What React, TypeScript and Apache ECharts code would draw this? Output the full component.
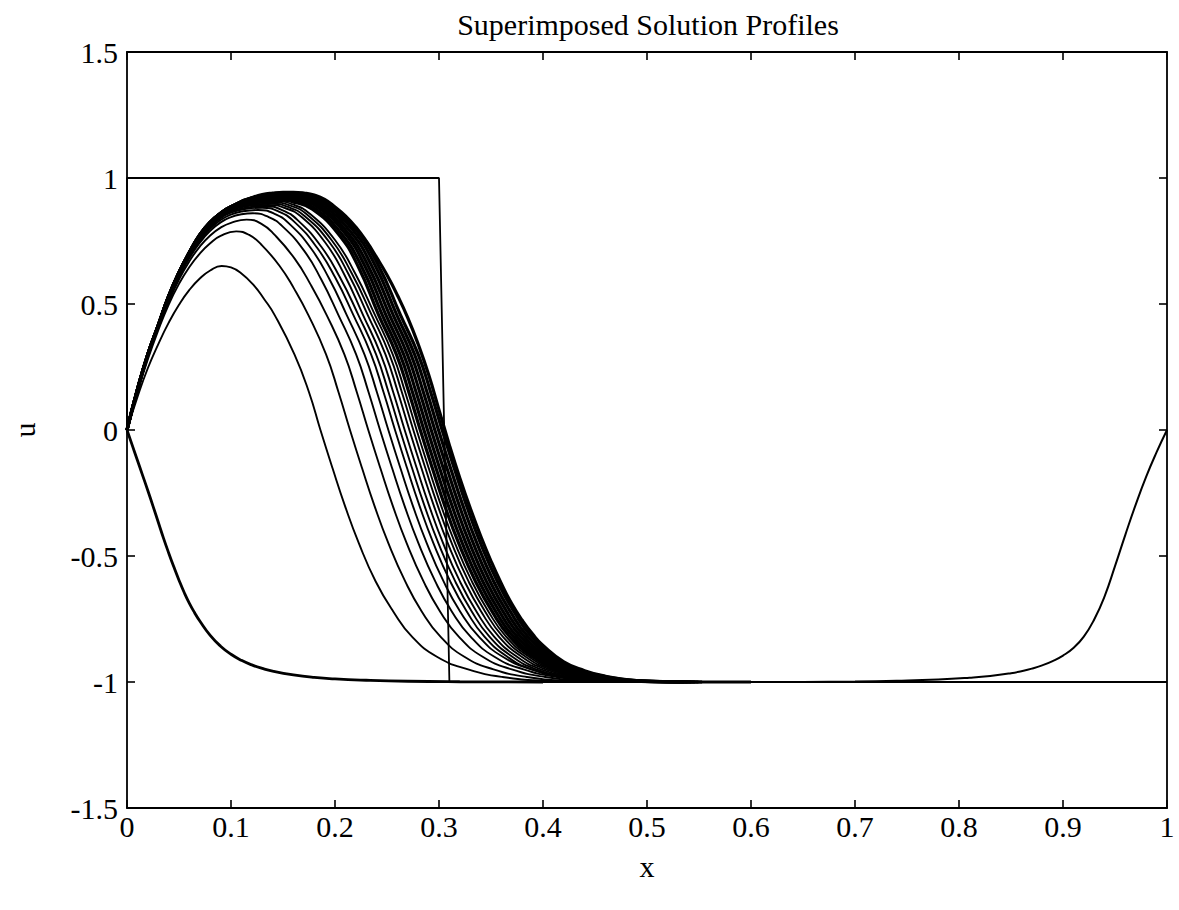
import React, { useEffect, useRef } from "react";
import * as echarts from "echarts";

const TITLE = "Superimposed Solution Profiles";
const X_NAME = "x";
const Y_NAME = "u";
const X_MIN = 0;
const X_MAX = 1;
const X_STEP = 0.1;
const Y_MIN = -1.5;
const Y_MAX = 1.5;
const Y_STEP = 0.5;

// initial step profile
const initialProfile = [[0, 0], [0, 1], [0.3, 1], [0.31, -1], [1, -1]];

// lower profile: left boundary layer
const lowerLeftProfile = [
  [0, 0], [0.005, -0.06], [0.01, -0.12], [0.015, -0.18], [0.02, -0.24], [0.025, -0.302],
  [0.03, -0.365], [0.035, -0.428], [0.04, -0.487], [0.045, -0.543], [0.05, -0.596],
  [0.055, -0.645], [0.06, -0.688], [0.065, -0.725], [0.07, -0.758], [0.08, -0.815],
  [0.09, -0.858], [0.1, -0.89], [0.11, -0.914], [0.12, -0.932], [0.13, -0.946], [0.14, -0.957],
  [0.16, -0.972], [0.18, -0.982], [0.2, -0.988], [0.23, -0.993], [0.27, -0.997], [0.32, -0.999], [0.4, -1],
];
// right boundary layer
const rightBoundaryProfile = [
  [0.65, -1], [0.7, -0.998], [0.74, -0.995], [0.78, -0.99], [0.81, -0.983], [0.83, -0.976],
  [0.85, -0.965], [0.86, -0.957], [0.87, -0.947], [0.88, -0.934], [0.89, -0.917], [0.9, -0.895],
  [0.91, -0.865], [0.92, -0.82], [0.93, -0.752], [0.94, -0.66], [0.95, -0.54], [0.96, -0.415],
  [0.97, -0.295], [0.98, -0.185], [0.99, -0.088], [1, 0],
];

const curve1 = [[0,0],[0.01,0.13],[0.02,0.245],[0.03,0.34],[0.04,0.425],[0.05,0.497],[0.06,0.556],[0.07,0.601],[0.08,0.633],[0.091,0.651],[0.1,0.645],[0.1089,0.625],[0.1216,0.576],[0.1318,0.52],[0.142,0.456],[0.161,0.3],[0.175,0.15],[0.186,0],[0.1975,-0.15],[0.2095,-0.3],[0.223,-0.45],[0.239,-0.6],[0.256,-0.72],[0.274,-0.82],[0.298,-0.9],[0.328,-0.95],[0.361,-0.98],[0.406,-0.995],[0.486,-1]];
const curve2 = [[0,0],[0.01,0.15],[0.02,0.28],[0.03,0.395],[0.04,0.497],[0.05,0.58],[0.06,0.647],[0.07,0.7],[0.08,0.741],[0.09,0.77],[0.105,0.788],[0.1175,0.774],[0.1293,0.735],[0.1466,0.652],[0.1605,0.562],[0.1744,0.456],[0.1914,0.3],[0.2034,0.15],[0.2144,0],[0.2259,-0.15],[0.2379,-0.3],[0.2514,-0.45],[0.2674,-0.6],[0.2834,-0.72],[0.3014,-0.82],[0.3244,-0.9],[0.3524,-0.95],[0.3844,-0.98],[0.4244,-0.995],[0.5044,-1]];
const curve3 = [[0,0],[0.01,0.155],[0.02,0.29],[0.03,0.405],[0.04,0.507],[0.05,0.597],[0.06,0.67],[0.07,0.728],[0.08,0.772],[0.09,0.803],[0.1,0.822],[0.115,0.835],[0.1289,0.819],[0.142,0.774],[0.1612,0.68],[0.1766,0.577],[0.192,0.456],[0.209,0.3],[0.221,0.15],[0.232,0],[0.2435,-0.15],[0.2555,-0.3],[0.269,-0.45],[0.285,-0.6],[0.301,-0.72],[0.319,-0.82],[0.342,-0.9],[0.37,-0.95],[0.402,-0.98],[0.442,-0.995],[0.522,-1]];
const curve4 = [[0,0],[0.01,0.157],[0.02,0.294],[0.03,0.41],[0.04,0.514],[0.05,0.605],[0.06,0.682],[0.07,0.743],[0.08,0.79],[0.09,0.824],[0.1,0.845],[0.11,0.856],[0.121,0.86],[0.1358,0.846],[0.1498,0.807],[0.1704,0.711],[0.1868,0.597],[0.2033,0.456],[0.2203,0.3],[0.2323,0.15],[0.2433,0],[0.2548,-0.15],[0.2668,-0.3],[0.2803,-0.45],[0.2963,-0.6],[0.3123,-0.72],[0.3303,-0.82],[0.3533,-0.9],[0.3813,-0.95],[0.4133,-0.98],[0.4533,-0.995],[0.5333,-1]];
const curve5 = [[0,0],[0.01,0.158],[0.02,0.296],[0.03,0.412],[0.04,0.517],[0.05,0.609],[0.06,0.687],[0.07,0.75],[0.08,0.798],[0.09,0.833],[0.1,0.855],[0.11,0.867],[0.126,0.873],[0.1414,0.859],[0.1559,0.819],[0.1772,0.719],[0.1942,0.602],[0.2113,0.456],[0.2283,0.3],[0.2403,0.15],[0.2513,0],[0.2628,-0.15],[0.2748,-0.3],[0.2883,-0.45],[0.3043,-0.6],[0.3203,-0.72],[0.3383,-0.82],[0.3613,-0.9],[0.3893,-0.95],[0.4213,-0.98],[0.4613,-0.995],[0.5413,-1]];
const curve6 = [[0,0],[0.01,0.159],[0.02,0.297],[0.03,0.413],[0.04,0.519],[0.05,0.612],[0.06,0.691],[0.07,0.755],[0.08,0.804],[0.09,0.84],[0.1,0.863],[0.115,0.878],[0.13,0.882],[0.1458,0.867],[0.1607,0.827],[0.1826,0.724],[0.2002,0.605],[0.2177,0.456],[0.2347,0.3],[0.2467,0.15],[0.2577,0],[0.2692,-0.15],[0.2812,-0.3],[0.2947,-0.45],[0.3107,-0.6],[0.3267,-0.72],[0.3437,-0.82],[0.3657,-0.9],[0.3887,-0.95],[0.4167,-0.98],[0.4477,-0.995],[0.5077,-1]];
const curve7 = [[0,0],[0.01,0.159],[0.02,0.298],[0.03,0.414],[0.04,0.521],[0.05,0.614],[0.06,0.694],[0.07,0.759],[0.08,0.809],[0.09,0.845],[0.1,0.868],[0.115,0.883],[0.133,0.888],[0.1491,0.873],[0.1643,0.832],[0.1867,0.728],[0.2046,0.607],[0.2225,0.456],[0.2395,0.3],[0.2515,0.15],[0.2625,0],[0.274,-0.15],[0.286,-0.3],[0.2995,-0.45],[0.3155,-0.6],[0.3315,-0.72],[0.3485,-0.82],[0.3705,-0.9],[0.3935,-0.95],[0.4215,-0.98],[0.4525,-0.995],[0.5125,-1]];
const curve8 = [[0,0],[0.01,0.16],[0.02,0.299],[0.03,0.415],[0.04,0.523],[0.05,0.616],[0.06,0.696],[0.07,0.762],[0.08,0.813],[0.09,0.849],[0.1,0.872],[0.115,0.888],[0.136,0.893],[0.1524,0.88],[0.1679,0.845],[0.1906,0.744],[0.2088,0.618],[0.227,0.456],[0.244,0.3],[0.256,0.15],[0.267,0],[0.2785,-0.15],[0.2905,-0.3],[0.304,-0.45],[0.32,-0.6],[0.336,-0.72],[0.353,-0.82],[0.375,-0.9],[0.398,-0.95],[0.426,-0.98],[0.457,-0.995],[0.517,-1]];
const curve9 = [[0,0],[0.01,0.16],[0.02,0.299],[0.03,0.415],[0.04,0.525],[0.05,0.618],[0.06,0.698],[0.07,0.765],[0.08,0.816],[0.09,0.852],[0.1,0.876],[0.115,0.892],[0.138,0.898],[0.1548,0.885],[0.1707,0.849],[0.1941,0.748],[0.2128,0.62],[0.2315,0.456],[0.2485,0.3],[0.2605,0.15],[0.2715,0],[0.283,-0.15],[0.295,-0.3],[0.3085,-0.45],[0.3245,-0.6],[0.3405,-0.72],[0.3575,-0.82],[0.3795,-0.9],[0.4025,-0.95],[0.4305,-0.98],[0.4615,-0.995],[0.5215,-1]];
const curve10 = [[0,0],[0.01,0.16],[0.02,0.3],[0.03,0.415],[0.04,0.526],[0.05,0.62],[0.06,0.7],[0.07,0.767],[0.08,0.818],[0.09,0.855],[0.1,0.879],[0.115,0.896],[0.14,0.903],[0.1572,0.89],[0.1734,0.854],[0.1972,0.751],[0.2162,0.621],[0.2353,0.456],[0.2523,0.3],[0.2643,0.15],[0.2753,0],[0.2868,-0.15],[0.2988,-0.3],[0.3123,-0.45],[0.3283,-0.6],[0.3443,-0.72],[0.3613,-0.82],[0.3833,-0.9],[0.4063,-0.95],[0.4343,-0.98],[0.4653,-0.995],[0.5253,-1]];
const curve11 = [[0,0],[0.01,0.16],[0.02,0.3],[0.03,0.415],[0.04,0.527],[0.05,0.621],[0.06,0.701],[0.07,0.769],[0.08,0.82],[0.09,0.857],[0.1,0.881],[0.115,0.899],[0.142,0.908],[0.1594,0.895],[0.1758,0.858],[0.2,0.754],[0.2192,0.623],[0.2385,0.456],[0.2555,0.3],[0.2675,0.15],[0.2785,0],[0.29,-0.15],[0.302,-0.3],[0.3155,-0.45],[0.3315,-0.6],[0.3475,-0.72],[0.3645,-0.82],[0.3865,-0.9],[0.4095,-0.95],[0.4375,-0.98],[0.4685,-0.995],[0.5285,-1]];

// dense band of late-time profiles
const band1 = [[0,0],[0.01,0.16],[0.02,0.3],[0.03,0.415],[0.04,0.528],[0.05,0.622],[0.06,0.702],[0.07,0.77],[0.08,0.821],[0.09,0.858],[0.1,0.883],[0.12,0.906],[0.144,0.913],[0.1616,0.903],[0.1783,0.876],[0.2028,0.78],[0.2224,0.648],[0.242,0.456],[0.259,0.3],[0.271,0.15],[0.282,0],[0.2935,-0.15],[0.3055,-0.3],[0.319,-0.45],[0.335,-0.6],[0.351,-0.72],[0.368,-0.82],[0.39,-0.9],[0.413,-0.95],[0.441,-0.98],[0.472,-0.995],[0.532,-1]];
const band2 = [[0,0],[0.01,0.16],[0.02,0.3],[0.03,0.415],[0.04,0.529],[0.05,0.623],[0.06,0.703],[0.07,0.771],[0.08,0.822],[0.09,0.859],[0.1,0.884],[0.12,0.91],[0.145,0.918],[0.1631,0.908],[0.1802,0.881],[0.2053,0.784],[0.2254,0.65],[0.2455,0.456],[0.2625,0.3],[0.2745,0.15],[0.2855,0],[0.297,-0.15],[0.309,-0.3],[0.3225,-0.45],[0.3385,-0.6],[0.3545,-0.72],[0.3715,-0.82],[0.3935,-0.9],[0.4165,-0.95],[0.4445,-0.98],[0.4755,-0.995],[0.5355,-1]];
const band3 = [[0,0],[0.01,0.16],[0.02,0.3],[0.03,0.415],[0.04,0.529],[0.05,0.624],[0.06,0.704],[0.07,0.772],[0.08,0.823],[0.09,0.86],[0.1,0.885],[0.12,0.913],[0.147,0.923],[0.1654,0.913],[0.1827,0.886],[0.2082,0.788],[0.2286,0.652],[0.249,0.456],[0.266,0.3],[0.278,0.15],[0.289,0],[0.3005,-0.15],[0.3125,-0.3],[0.326,-0.45],[0.342,-0.6],[0.358,-0.72],[0.375,-0.82],[0.397,-0.9],[0.42,-0.95],[0.448,-0.98],[0.479,-0.995],[0.539,-1]];
const band4 = [[0,0],[0.01,0.16],[0.02,0.3],[0.03,0.415],[0.04,0.53],[0.05,0.624],[0.06,0.704],[0.07,0.773],[0.08,0.824],[0.09,0.86],[0.1,0.886],[0.12,0.916],[0.148,0.928],[0.1668,0.918],[0.1846,0.89],[0.2107,0.791],[0.2316,0.654],[0.2525,0.456],[0.2695,0.3],[0.2815,0.15],[0.2925,0],[0.304,-0.15],[0.316,-0.3],[0.3295,-0.45],[0.3455,-0.6],[0.3615,-0.72],[0.3785,-0.82],[0.4005,-0.9],[0.4235,-0.95],[0.4515,-0.98],[0.4825,-0.995],[0.5425,-1]];
const band5 = [[0,0],[0.01,0.16],[0.02,0.3],[0.03,0.415],[0.04,0.53],[0.05,0.625],[0.06,0.705],[0.07,0.774],[0.08,0.824],[0.09,0.86],[0.1,0.886],[0.12,0.918],[0.15,0.932],[0.1691,0.922],[0.1871,0.894],[0.2136,0.794],[0.2348,0.656],[0.256,0.456],[0.273,0.3],[0.285,0.15],[0.296,0],[0.3075,-0.15],[0.3195,-0.3],[0.333,-0.45],[0.349,-0.6],[0.365,-0.72],[0.382,-0.82],[0.404,-0.9],[0.427,-0.95],[0.455,-0.98],[0.486,-0.995],[0.546,-1]];
const band6 = [[0,0],[0.01,0.16],[0.02,0.3],[0.03,0.415],[0.04,0.53],[0.05,0.625],[0.06,0.705],[0.07,0.775],[0.08,0.825],[0.09,0.86],[0.1,0.886],[0.12,0.92],[0.152,0.936],[0.1714,0.926],[0.1896,0.898],[0.2165,0.797],[0.238,0.658],[0.2595,0.456],[0.2765,0.3],[0.2885,0.15],[0.2995,0],[0.311,-0.15],[0.323,-0.3],[0.3365,-0.45],[0.3525,-0.6],[0.3685,-0.72],[0.3855,-0.82],[0.4075,-0.9],[0.4305,-0.95],[0.4585,-0.98],[0.4895,-0.995],[0.5495,-1]];
const band7 = [[0,0],[0.01,0.16],[0.02,0.3],[0.03,0.415],[0.04,0.53],[0.05,0.625],[0.06,0.705],[0.07,0.775],[0.08,0.825],[0.09,0.86],[0.1,0.886],[0.12,0.921],[0.153,0.94],[0.1728,0.93],[0.1915,0.901],[0.219,0.8],[0.241,0.659],[0.263,0.456],[0.28,0.3],[0.292,0.15],[0.303,0],[0.3145,-0.15],[0.3265,-0.3],[0.34,-0.45],[0.356,-0.6],[0.372,-0.72],[0.389,-0.82],[0.411,-0.9],[0.434,-0.95],[0.462,-0.98],[0.493,-0.995],[0.553,-1]];
const finalProfile = [
  [0, 0], [0.01, 0.16], [0.02, 0.3], [0.03, 0.415], [0.04, 0.53], [0.05, 0.625], [0.06, 0.705],
  [0.07, 0.775], [0.08, 0.825], [0.09, 0.86], [0.1, 0.885], [0.11, 0.905], [0.12, 0.922],
  [0.13, 0.934], [0.14, 0.94], [0.15, 0.943], [0.16, 0.943], [0.17, 0.94], [0.18, 0.932],
  [0.19, 0.915], [0.2, 0.885], [0.21, 0.85], [0.22, 0.805], [0.23, 0.75], [0.24, 0.685],
  [0.25, 0.615], [0.26, 0.535], [0.27, 0.445], [0.28, 0.34], [0.29, 0.22], [0.3, 0.08],
  [0.31, -0.06], [0.32, -0.19], [0.33, -0.31], [0.34, -0.42], [0.35, -0.52], [0.36, -0.61],
  [0.37, -0.69], [0.38, -0.755], [0.39, -0.81], [0.4, -0.855], [0.42, -0.92], [0.44, -0.955],
  [0.46, -0.977], [0.48, -0.99], [0.5, -0.997], [0.55, -1], [0.6, -1],
];

const earlyCurves = [curve1, curve2, curve3, curve4, curve5, curve6, curve7, curve8, curve9, curve10, curve11];
const lateCurves = [band1, band2, band3, band4, band5, band6, band7, finalProfile];

const FONT = "'Liberation Serif', 'DejaVu Serif', 'Times New Roman', serif";
const SMOOTH = 0.5;

function lineSeries(data: number[][], width: number, smooth: number | boolean) {
  return {
    type: "line",
    data,
    smooth,
    symbol: "none",
    showSymbol: false,
    silent: true,
    xAxisIndex: 0,
    yAxisIndex: 0,
    lineStyle: { color: "#000", width },
  };
}

export default function App() {
  const ref = useRef<HTMLDivElement>(null);
  useEffect(() => {
    if (!ref.current) return;
    const chart = echarts.init(ref.current, undefined, { renderer: "svg" });
    const axisLine = { show: true, onZero: false, lineStyle: { color: "#000", width: 1.8 } };
    const tick = { show: true, inside: true, length: 8, lineStyle: { color: "#000", width: 1.6 } };
    const label = { color: "#000", fontSize: 30, fontFamily: FONT };
    const option = {
      animation: false,
      backgroundColor: "#fff",
      title: {
        text: TITLE,
        left: 643,
        textAlign: "center",
        top: 4,
        textStyle: { color: "#000", fontSize: 30, fontWeight: "normal", fontFamily: FONT },
      },
      grid: { left: 127, right: 12, top: 52, bottom: 102 },
      xAxis: [
        {
          type: "value", min: X_MIN, max: X_MAX, interval: X_STEP, position: "bottom",
          axisLine, axisTick: tick, splitLine: { show: false },
          axisLabel: { ...label, margin: 3 },
          name: X_NAME, nameLocation: "middle", nameGap: 43,
          nameTextStyle: { color: "#000", fontSize: 30, fontFamily: FONT },
        },
        {
          type: "value", min: X_MIN, max: X_MAX, interval: X_STEP, position: "top",
          axisLine, axisTick: tick, splitLine: { show: false }, axisLabel: { show: false },
        },
      ],
      yAxis: [
        {
          type: "value", min: Y_MIN, max: Y_MAX, interval: Y_STEP, position: "left",
          axisLine, axisTick: tick, splitLine: { show: false },
          axisLabel: { ...label, margin: 9 },
          name: Y_NAME, nameLocation: "middle", nameGap: 88,
          nameTextStyle: { color: "#000", fontSize: 30, fontFamily: FONT },
        },
        {
          type: "value", min: Y_MIN, max: Y_MAX, interval: Y_STEP, position: "right",
          axisLine, axisTick: tick, splitLine: { show: false }, axisLabel: { show: false },
        },
      ],
      series: [
        lineSeries(initialProfile, 1.8, false),
        lineSeries(lowerLeftProfile, 2.8, SMOOTH),
        lineSeries(rightBoundaryProfile, 2, SMOOTH),
        ...earlyCurves.map((d) => lineSeries(d, 1.9, SMOOTH)),
        ...lateCurves.map((d) => lineSeries(d, 3.2, SMOOTH)),
      ],
    };
    chart.setOption(option as any);
    return () => chart.dispose();
  }, []);
  return (
    <div
      ref={ref}
      style={{ position: "fixed", left: 0, top: 0, width: 1179, height: 910, background: "#fff" }}
    />
  );
}
